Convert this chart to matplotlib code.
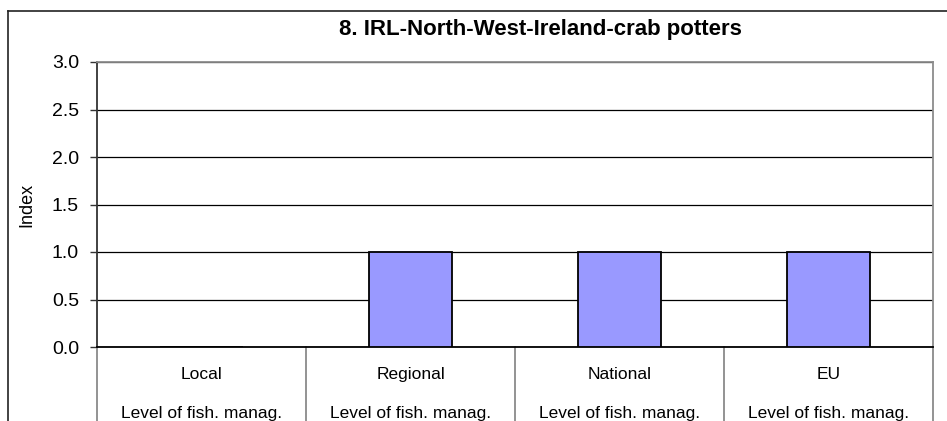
import matplotlib.pyplot as plt
from matplotlib.lines import Line2D

plt.rcParams['font.family'] = ['Liberation Sans', 'DejaVu Sans']

categories = ["Local", "Regional", "National", "EU"]
values = [0.0, 1.0, 1.0, 1.0]
group_label = "Level of fish. manag."
title = "8. IRL-North-West-Ireland-crab potters"

W, H = 947, 421
fig = plt.figure(figsize=(W / 100, H / 100), dpi=100)
ax = fig.add_axes([97 / W, (H - 347) / H, 836 / W, 285 / H])

x = range(len(categories))
ax.bar(x, values, width=0.4, color="#9999FF", edgecolor="black", linewidth=1.3, zorder=3)

ax.set_xlim(-0.5, len(categories) - 0.5)
ax.set_ylim(0, 3.0)
ax.set_yticks([0, 0.5, 1.0, 1.5, 2.0, 2.5, 3.0])
ax.set_yticklabels([f"{v:.1f}" for v in ax.get_yticks()], fontsize=14)
ax.tick_params(axis="y", direction="out", length=5, width=1, color="#333333", pad=8)
ax.set_xticks([])
ax.yaxis.grid(True, color="black", linewidth=0.9, zorder=0)
ax.set_ylabel("Index", fontsize=13)
ax.yaxis.set_label_coords(-62 / 836, 0.5)

for side, col in [("left", "#333333"), ("bottom", "black"), ("top", "#8c8c8c"), ("right", "#8c8c8c")]:
    ax.spines[side].set_color(col)
    ax.spines[side].set_linewidth(1.3)

# category table below the axis
trans = ax.get_xaxis_transform()
for i in range(len(categories) + 1):
    ax.add_line(Line2D([i - 0.5, i - 0.5], [0, -0.4], transform=trans, color="#808080",
                       linewidth=1.2, clip_on=False))
for i, name in enumerate(categories):
    ax.text(i, -0.095, name, transform=trans, ha="center", va="center", fontsize=12.5)
    ax.text(i, -0.235, group_label, transform=trans, ha="center", va="center", fontsize=12.5)

fig.text(540 / W, 1 - 30 / H, title, ha="center", va="center", fontsize=16, fontweight="bold")

# chart area frame
fig.add_artist(Line2D([8 / W, 8 / W], [0, 1 - 11 / H], transform=fig.transFigure, color="#222222", linewidth=1.2))
fig.add_artist(Line2D([8 / W, 1], [1 - 11 / H, 1 - 11 / H], transform=fig.transFigure, color="#222222", linewidth=1.2))

fig.savefig("out.png", dpi=100)
